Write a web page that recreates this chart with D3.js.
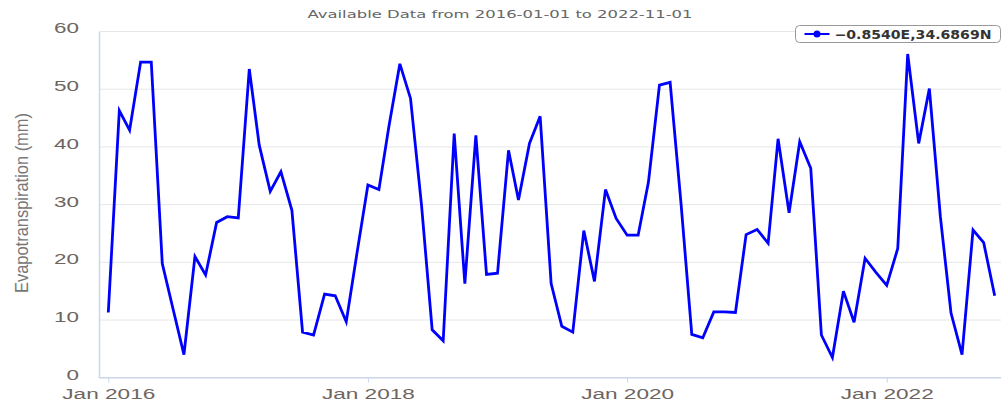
<!DOCTYPE html>
<html>
<head>
<meta charset="utf-8">
<script src="https://cdn.jsdelivr.net/npm/d3@7"></script>
<style>
  html, body { margin: 0; padding: 0; background: #fff; }
  svg { display: block; font-family: "DejaVu Sans", Verdana, sans-serif; }
</style>
</head>
<body>
<div id="chart"></div>
<script>
// Monthly evapotranspiration (mm), Jan 2016 .. Nov 2022
const startMonth = "2016-01-01";
const endMonth = "2022-11-01";
const etValues = [
  11.3, 46.3, 42.9, 54.7, 54.7, 19.8, 12.0, 4.0, 21.0, 17.8, 26.9, 27.9,
  27.7, 53.5, 40.3, 32.3, 35.7, 29.0, 7.9, 7.4, 14.5, 14.2, 9.7, 21.5,
  33.4, 32.6, 43.5, 54.4, 48.4, 29.9, 8.3, 6.4, 42.3, 16.3, 42.0, 17.9,
  18.1, 39.4, 30.8, 40.6, 45.3, 16.3, 8.9, 7.9, 25.5, 16.7, 32.6, 27.6,
  24.7, 24.7, 33.9, 50.7, 51.2, 30.0, 7.5, 6.9, 11.4, 11.4, 11.3, 24.8,
  25.7, 23.3, 41.4, 28.6, 40.9, 36.3, 7.4, 3.5, 15.0, 9.6, 20.7, 18.3,
  16.0, 22.4, 56.1, 40.6, 50.1, 27.9, 11.2, 4.0, 25.6, 23.4, 14.2
];
const yTicks = [0, 10, 20, 30, 40, 50, 60];
const xTickYears = [2016, 2018, 2020, 2022];
const seriesName = "\u22120.8540E,34.6869N";
const titleText = "Available Data from 2016-01-01 to 2022-11-01";
const yLabel = "Evapotranspiration (mm)";

const W = 1001, H = 401;
const plotLeft = 99, plotRight = 1001, plotTop = 31.5, plotBottom = 377.7;

const months = d3.utcMonth.range(new Date(startMonth), d3.utcMonth.offset(new Date(endMonth), 1));
const data = months.map((d, i) => ({ date: d, value: etValues[i] }));

const svg = d3.select("#chart").append("svg")
  .attr("width", W)
  .attr("height", H);

const x = d3.scaleUtc()
  .domain([new Date(startMonth), new Date(endMonth)])
  .range([108.3, 994.7]);

const y = d3.scaleLinear()
  .domain([0, 60])
  .range([plotBottom, plotTop]);

// gridlines
svg.append("g")
  .selectAll("line")
  .data(yTicks.filter(d => d > 0))
  .join("line")
  .attr("x1", plotLeft)
  .attr("x2", plotRight)
  .attr("y1", d => y(d))
  .attr("y2", d => y(d))
  .attr("stroke", "#e6e6e6")
  .attr("stroke-width", 1);

// x axis
const xAxis = svg.append("g")
  .attr("transform", `translate(0,${plotBottom})`)
  .call(d3.axisBottom(x)
    .tickValues(xTickYears.map(yr => new Date(Date.UTC(yr, 0, 1))))
    .tickFormat(d3.utcFormat("Jan %Y"))
    .tickSize(5)
    .tickPadding(3));
xAxis.select(".domain").remove();
xAxis.append("line")
  .attr("x1", plotLeft).attr("x2", plotRight)
  .attr("stroke", "#ccd6eb").attr("stroke-width", 1.5);
xAxis.selectAll(".tick line").attr("stroke", "#ccd6eb");
xAxis.selectAll(".tick text")
  .attr("fill", "#6e6560")
  .attr("font-size", 14)
  .attr("dy", "0.95em")
  .attr("textLength", 93)
  .attr("lengthAdjust", "spacingAndGlyphs");

// y axis
const yAxis = svg.append("g")
  .attr("transform", `translate(${plotLeft},0)`)
  .call(d3.axisLeft(y)
    .tickValues(yTicks)
    .tickSize(0)
    .tickPadding(20));
yAxis.select(".domain")
  .attr("stroke", "#ccd6eb")
  .attr("stroke-width", 1.5);
yAxis.selectAll(".tick text")
  .attr("fill", "#6e6560")
  .attr("font-size", 14)
  .attr("dy", "0.1em")
  .attr("textLength", d => String(d).length * 12.5)
  .attr("lengthAdjust", "spacingAndGlyphs");

// y axis label
svg.append("text")
  .attr("transform", `translate(28,203) rotate(-90)`)
  .attr("text-anchor", "middle")
  .attr("font-family", "'Liberation Sans Narrow', 'Liberation Sans', sans-serif")
  .attr("font-size", 19)
  .attr("fill", "#777")
  .attr("textLength", 180)
  .attr("lengthAdjust", "spacingAndGlyphs")
  .text(yLabel);

// title
svg.append("text")
  .attr("x", 500)
  .attr("y", 18)
  .attr("text-anchor", "middle")
  .attr("font-size", 11)
  .attr("fill", "#666")
  .attr("textLength", 385)
  .attr("lengthAdjust", "spacingAndGlyphs")
  .text(titleText);

// line
const line = d3.line()
  .x(d => x(d.date))
  .y(d => y(d.value));

svg.append("path")
  .datum(data)
  .attr("fill", "none")
  .attr("stroke", "#0000ff")
  .attr("stroke-width", 2.8)
  .attr("stroke-linejoin", "miter")
  .attr("d", line);

// legend
const legend = svg.append("g").attr("transform", "translate(795.5,25.5)");
legend.append("rect")
  .attr("width", 205)
  .attr("height", 17)
  .attr("rx", 4)
  .attr("fill", "#fff")
  .attr("stroke", "#999")
  .attr("stroke-width", 1);
legend.append("line")
  .attr("x1", 9).attr("x2", 34)
  .attr("y1", 8.5).attr("y2", 8.5)
  .attr("stroke", "#0000ff")
  .attr("stroke-width", 2);
legend.append("circle")
  .attr("cx", 21.5).attr("cy", 8.5).attr("r", 3.5)
  .attr("fill", "#0000ff");
legend.append("text")
  .attr("x", 39)
  .attr("y", 13)
  .attr("font-size", 12)
  .attr("font-weight", "bold")
  .attr("fill", "#333")
  .attr("textLength", 157)
  .attr("lengthAdjust", "spacingAndGlyphs")
  .text(seriesName);
</script>
</body>
</html>
